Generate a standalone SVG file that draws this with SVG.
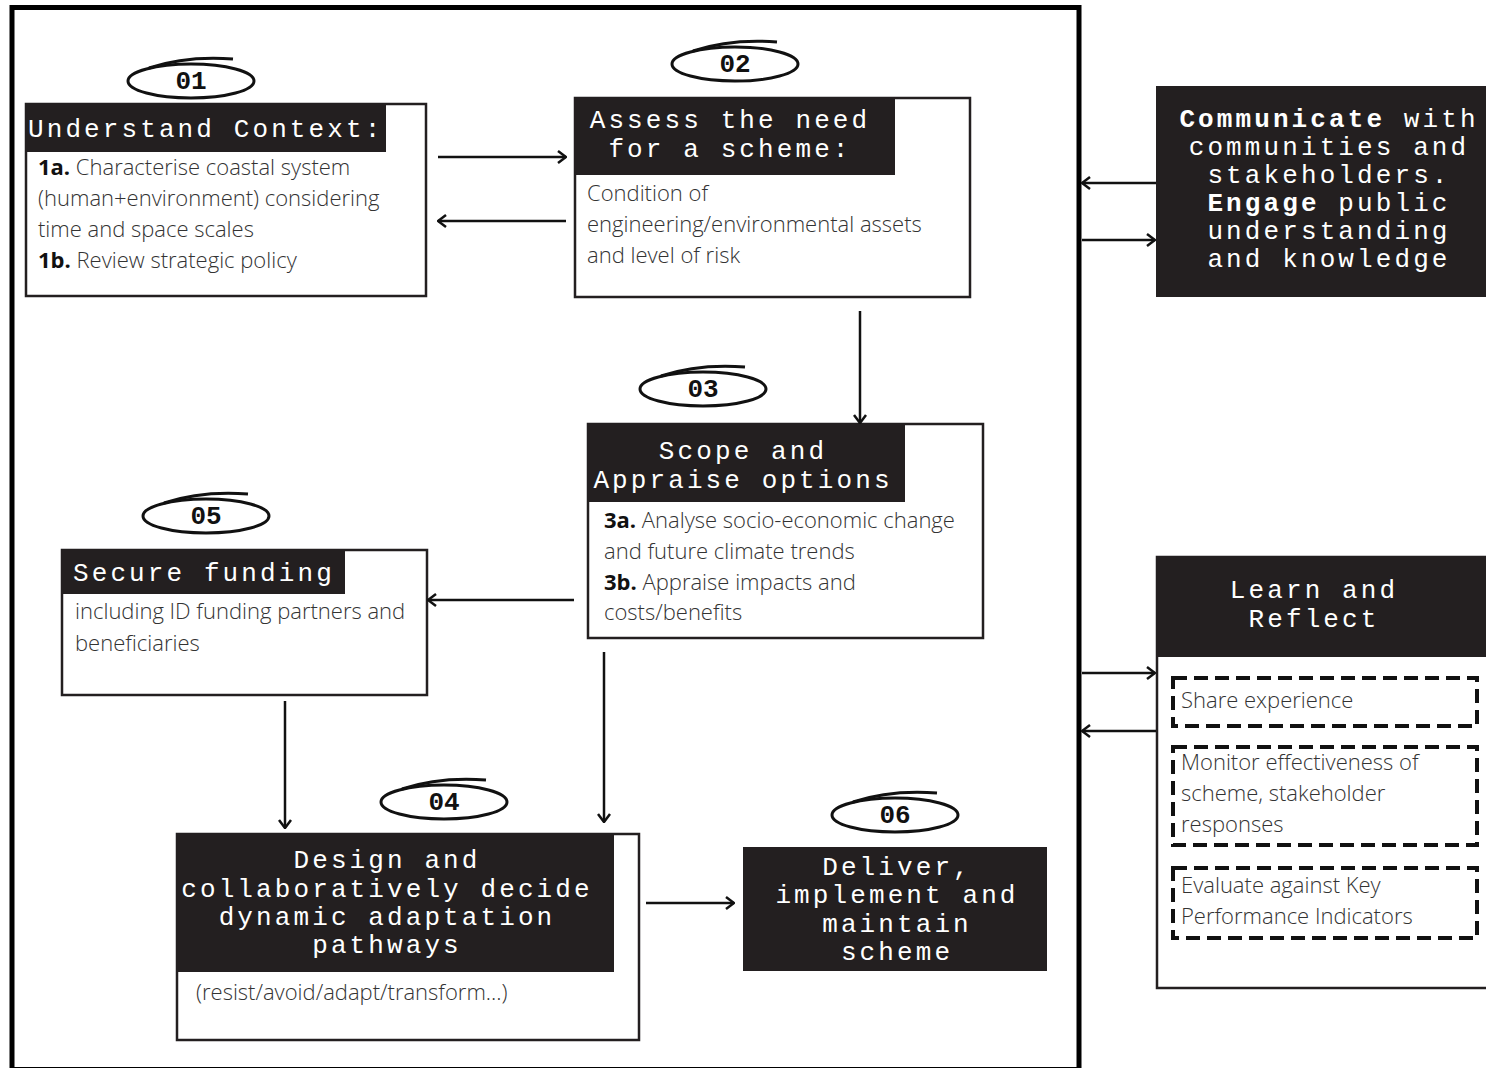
<svg xmlns="http://www.w3.org/2000/svg" xmlns:xlink="http://www.w3.org/1999/xlink" width="1486" height="1068" viewBox="0 0 1486 1068">
<style>
.box{fill:#fff;stroke:#231f20;stroke-width:2.5}
.hdr{fill:#231f20}
.ttl{font-family:"Liberation Mono","DejaVu Sans Mono",monospace;font-size:26px;letter-spacing:3.1px;fill:#fff}
.ttlc{font-family:"Liberation Mono","DejaVu Sans Mono",monospace;font-size:26px;letter-spacing:3.1px;fill:#fff;text-anchor:middle}
.num{font-family:"Liberation Mono","DejaVu Sans Mono",monospace;font-size:26px;font-weight:700;fill:#111;text-anchor:middle}
.body{font-family:"Open Sans","Noto Sans","Liberation Sans",sans-serif;font-size:22px;font-weight:300;fill:#333}
.b{font-weight:700;fill:#111}
.dash{fill:none;stroke:#111;stroke-width:4;stroke-dasharray:14 7}
.conn line{stroke:#111;stroke-width:2.5;marker-end:url(#arr)}
.ring ellipse,.ring path{fill:none;stroke:#111;stroke-width:3}
</style>
<defs>
<marker id="arr" viewBox="0 0 10 14" refX="9" refY="7" markerWidth="10" markerHeight="14" markerUnits="userSpaceOnUse" orient="auto">
<path d="M1,1 L9,7 L1,13" fill="none" stroke="#111" stroke-width="2.5"/>
</marker>
<g id="ring" class="ring"><ellipse cx="0" cy="0" rx="63" ry="17"/><path d="M-42,-13 C-15,-22 15,-24 42,-22"/></g>
</defs>
<rect width="1486" height="1068" fill="#fff"/>
<rect id="frame" x="12" y="7.5" width="1067" height="1062" fill="none" stroke="#000" stroke-width="5"/>

<g id="node01">
<use xlink:href="#ring" x="191" y="81"/>
<text class="num" x="191" y="89">01</text>
<rect class="box" x="26" y="104" width="400" height="192"/>
<rect class="hdr" x="26" y="104" width="360" height="48"/>
<text class="ttl" x="28" y="137">Understand Context:</text>
<text class="body" x="38" y="175"><tspan class="b">1a.</tspan> Characterise coastal system</text>
<text class="body" x="38" y="206">(human+environment) considering</text>
<text class="body" x="38" y="237">time and space scales</text>
<text class="body" x="38" y="268"><tspan class="b">1b.</tspan> Review strategic policy</text>
</g>

<g id="node02">
<use xlink:href="#ring" x="735" y="64"/>
<text class="num" x="735" y="72">02</text>
<rect class="box" x="575" y="98" width="395" height="199"/>
<rect class="hdr" x="575" y="98" width="320" height="77"/>
<text class="ttlc" x="730" y="128">Assess the need</text>
<text class="ttlc" x="730" y="157">for a scheme:</text>
<text class="body" x="587" y="201">Condition of</text>
<text class="body" x="587" y="232">engineering/environmental assets</text>
<text class="body" x="587" y="263">and level of risk</text>
</g>

<g id="node03">
<use xlink:href="#ring" x="703" y="389"/>
<text class="num" x="703" y="397">03</text>
<rect class="box" x="588" y="424" width="395" height="214"/>
<rect class="hdr" x="588" y="424" width="317" height="78"/>
<text class="ttlc" x="743" y="459">Scope and</text>
<text class="ttlc" x="743" y="488">Appraise options</text>
<text class="body" x="604" y="528"><tspan class="b">3a.</tspan> Analyse socio-economic change</text>
<text class="body" x="604" y="559">and future climate trends</text>
<text class="body" x="604" y="590"><tspan class="b">3b.</tspan> Appraise impacts and</text>
<text class="body" x="604" y="620">costs/benefits</text>
</g>

<g id="node05">
<use xlink:href="#ring" x="206" y="516"/>
<text class="num" x="206" y="524">05</text>
<rect class="box" x="62" y="550" width="365" height="145"/>
<rect class="hdr" x="62" y="550" width="283" height="44"/>
<text class="ttl" x="73" y="581">Secure funding</text>
<text class="body" x="75" y="619">including ID funding partners and</text>
<text class="body" x="75" y="651">beneficiaries</text>
</g>

<g id="node04">
<use xlink:href="#ring" x="444" y="802"/>
<text class="num" x="444" y="810">04</text>
<rect class="box" x="177" y="834" width="462" height="206"/>
<rect class="hdr" x="177" y="834" width="437" height="138"/>
<text class="ttlc" x="387" y="868">Design and</text>
<text class="ttlc" x="387" y="897">collaboratively decide</text>
<text class="ttlc" x="387" y="925">dynamic adaptation</text>
<text class="ttlc" x="387" y="953">pathways</text>
<text class="body" x="196" y="1000">(resist/avoid/adapt/transform...)</text>
</g>

<g id="node06">
<use xlink:href="#ring" x="895" y="815"/>
<text class="num" x="895" y="823">06</text>
<rect class="hdr" x="743" y="847" width="304" height="124"/>
<text class="ttlc" x="897" y="875">Deliver,</text>
<text class="ttlc" x="897" y="903">implement and</text>
<text class="ttlc" x="897" y="932">maintain</text>
<text class="ttlc" x="897" y="960">scheme</text>
</g>

<g id="communicate">
<rect class="hdr" x="1156" y="86" width="340" height="211"/>
<text class="ttlc" x="1329" y="127"><tspan font-weight="700">Communicate</tspan> with</text>
<text class="ttlc" x="1329" y="155">communities and</text>
<text class="ttlc" x="1329" y="183">stakeholders.</text>
<text class="ttlc" x="1329" y="211"><tspan font-weight="700">Engage</tspan> public</text>
<text class="ttlc" x="1329" y="239">understanding</text>
<text class="ttlc" x="1329" y="267">and knowledge</text>
</g>

<g id="learn">
<rect class="box" x="1157" y="557" width="340" height="431"/>
<rect class="hdr" x="1157" y="557" width="340" height="100"/>
<text class="ttlc" x="1314" y="598">Learn and</text>
<text class="ttlc" x="1314" y="627">Reflect</text>
<rect class="dash" x="1173" y="678" width="304" height="48"/>
<text class="body" x="1181" y="708">Share experience</text>
<rect class="dash" x="1173" y="747" width="304" height="98"/>
<text class="body" x="1181" y="770">Monitor effectiveness of</text>
<text class="body" x="1181" y="801">scheme, stakeholder</text>
<text class="body" x="1181" y="832">responses</text>
<rect class="dash" x="1173" y="868" width="304" height="70"/>
<text class="body" x="1181" y="893">Evaluate against Key</text>
<text class="body" x="1181" y="924">Performance Indicators</text>
</g>

<g id="connectors" class="conn">
<line x1="438" y1="157" x2="566" y2="157"/>
<line x1="566" y1="221" x2="438" y2="221"/>
<line x1="860" y1="311" x2="860" y2="423"/>
<line x1="574" y1="600" x2="428" y2="600"/>
<line x1="285" y1="701" x2="285" y2="828"/>
<line x1="604" y1="652" x2="604" y2="822"/>
<line x1="646" y1="903" x2="734" y2="903"/>
<line x1="1156" y1="183" x2="1082" y2="183"/>
<line x1="1082" y1="240" x2="1155" y2="240"/>
<line x1="1082" y1="673" x2="1155" y2="673"/>
<line x1="1156" y1="731" x2="1082" y2="731"/>
</g>
</svg>
